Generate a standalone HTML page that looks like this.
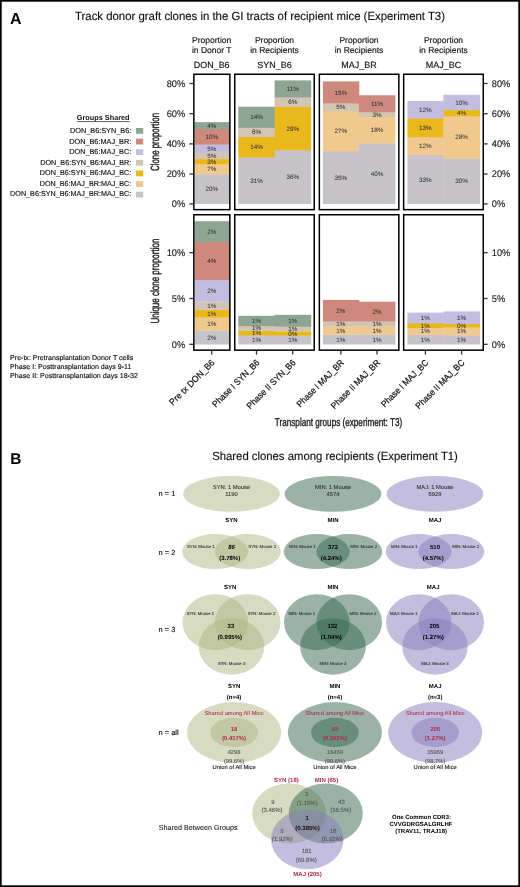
<!DOCTYPE html>
<html><head><meta charset="utf-8"><title>Figure</title>
<style>
html,body{margin:0;padding:0;background:#fff;}
body{width:520px;height:887px;overflow:hidden;}
svg{display:block;font-family:"Liberation Sans", sans-serif;will-change:transform;text-rendering:geometricPrecision;}
</style></head>
<body>
<svg width="520" height="887" viewBox="0 0 520 887">
<rect x="0" y="0" width="520" height="887" fill="#fff"/>
<text x="10" y="23.7" font-size="16" fill="#000" text-anchor="start" font-weight="bold" textLength="11.55" lengthAdjust="spacingAndGlyphs">A</text>
<text x="75" y="19.8" font-size="11.8" fill="#111" text-anchor="start" textLength="370" lengthAdjust="spacingAndGlyphs" stroke="#111" stroke-width="0.15">Track donor graft clones in the GI tracts of recipient mice (Experiment T3)</text>
<text x="211.7" y="42.8" font-size="8.5" fill="#111" text-anchor="middle" textLength="39.22" lengthAdjust="spacingAndGlyphs" stroke="#111" stroke-width="0.15">Proportion</text>
<text x="211.7" y="53.4" font-size="8.5" fill="#111" text-anchor="middle" textLength="39.53" lengthAdjust="spacingAndGlyphs" stroke="#111" stroke-width="0.15">in Donor T</text>
<text x="211.7" y="67.6" font-size="8.95" fill="#111" text-anchor="middle" textLength="35.81" lengthAdjust="spacingAndGlyphs" stroke="#111" stroke-width="0.15">DON_B6</text>
<text x="274.5" y="42.8" font-size="8.5" fill="#111" text-anchor="middle" textLength="39.22" lengthAdjust="spacingAndGlyphs" stroke="#111" stroke-width="0.15">Proportion</text>
<text x="274.5" y="53.4" font-size="8.5" fill="#111" text-anchor="middle" textLength="48.66" lengthAdjust="spacingAndGlyphs" stroke="#111" stroke-width="0.15">in Recipients</text>
<text x="274.5" y="67.6" font-size="8.95" fill="#111" text-anchor="middle" textLength="34.33" lengthAdjust="spacingAndGlyphs" stroke="#111" stroke-width="0.15">SYN_B6</text>
<text x="359.0" y="42.8" font-size="8.5" fill="#111" text-anchor="middle" textLength="39.22" lengthAdjust="spacingAndGlyphs" stroke="#111" stroke-width="0.15">Proportion</text>
<text x="359.0" y="53.4" font-size="8.5" fill="#111" text-anchor="middle" textLength="48.66" lengthAdjust="spacingAndGlyphs" stroke="#111" stroke-width="0.15">in Recipients</text>
<text x="359.0" y="67.6" font-size="8.95" fill="#111" text-anchor="middle" textLength="35.31" lengthAdjust="spacingAndGlyphs" stroke="#111" stroke-width="0.15">MAJ_BR</text>
<text x="443.5" y="42.8" font-size="8.5" fill="#111" text-anchor="middle" textLength="39.22" lengthAdjust="spacingAndGlyphs" stroke="#111" stroke-width="0.15">Proportion</text>
<text x="443.5" y="53.4" font-size="8.5" fill="#111" text-anchor="middle" textLength="48.66" lengthAdjust="spacingAndGlyphs" stroke="#111" stroke-width="0.15">in Recipients</text>
<text x="443.5" y="67.6" font-size="8.95" fill="#111" text-anchor="middle" textLength="35.31" lengthAdjust="spacingAndGlyphs" stroke="#111" stroke-width="0.15">MAJ_BC</text>
<rect x="194.5" y="174.1" width="34.9" height="29.9" fill="#c6c4c9"/>
<rect x="194.5" y="163.9" width="34.9" height="10.5" fill="#f0c98e"/>
<rect x="194.5" y="158.9" width="34.9" height="5.3" fill="#e9b81c"/>
<rect x="194.5" y="152.0" width="34.9" height="7.2" fill="#d3c5b3"/>
<rect x="194.5" y="144.4" width="34.9" height="7.9" fill="#c3bee0"/>
<rect x="194.5" y="129.0" width="34.9" height="15.7" fill="#ce887c"/>
<rect x="194.5" y="122.1" width="34.9" height="7.2" fill="#8fa594"/>
<text x="211.75" y="191.2" font-size="6.3" fill="#333" text-anchor="middle" textLength="12.61" lengthAdjust="spacingAndGlyphs" stroke="#333" stroke-width="0.04">20%</text>
<text x="211.75" y="171.3" font-size="6.3" fill="#333" text-anchor="middle" textLength="9.11" lengthAdjust="spacingAndGlyphs" stroke="#333" stroke-width="0.04">7%</text>
<text x="211.75" y="163.7" font-size="6.3" fill="#333" text-anchor="middle" textLength="9.11" lengthAdjust="spacingAndGlyphs" stroke="#333" stroke-width="0.04">3%</text>
<text x="211.75" y="157.75" font-size="6.3" fill="#333" text-anchor="middle" textLength="9.11" lengthAdjust="spacingAndGlyphs" stroke="#333" stroke-width="0.04">5%</text>
<text x="211.75" y="150.5" font-size="6.3" fill="#333" text-anchor="middle" textLength="9.11" lengthAdjust="spacingAndGlyphs" stroke="#333" stroke-width="0.04">5%</text>
<text x="211.75" y="139.0" font-size="6.3" fill="#333" text-anchor="middle" textLength="12.61" lengthAdjust="spacingAndGlyphs" stroke="#333" stroke-width="0.04">10%</text>
<text x="211.75" y="127.85" font-size="6.3" fill="#333" text-anchor="middle" textLength="9.11" lengthAdjust="spacingAndGlyphs" stroke="#333" stroke-width="0.04">4%</text>
<rect x="238.3" y="157.2" width="36.7" height="46.8" fill="#c6c4c9"/>
<rect x="238.3" y="136.6" width="36.7" height="20.9" fill="#e9b81c"/>
<rect x="238.3" y="127.6" width="36.7" height="9.3" fill="#d3c5b3"/>
<rect x="238.3" y="106.7" width="36.7" height="21.2" fill="#8fa594"/>
<text x="256.45" y="182.75" font-size="6.3" fill="#333" text-anchor="middle" textLength="12.61" lengthAdjust="spacingAndGlyphs" stroke="#333" stroke-width="0.04">31%</text>
<text x="256.45" y="149.2" font-size="6.3" fill="#333" text-anchor="middle" textLength="12.61" lengthAdjust="spacingAndGlyphs" stroke="#333" stroke-width="0.04">14%</text>
<text x="256.45" y="134.4" font-size="6.3" fill="#333" text-anchor="middle" textLength="9.11" lengthAdjust="spacingAndGlyphs" stroke="#333" stroke-width="0.04">6%</text>
<text x="256.45" y="119.45" font-size="6.3" fill="#333" text-anchor="middle" textLength="12.61" lengthAdjust="spacingAndGlyphs" stroke="#333" stroke-width="0.04">14%</text>
<rect x="274.6" y="149.9" width="36.6" height="54.1" fill="#c6c4c9"/>
<rect x="274.6" y="106.7" width="36.6" height="43.5" fill="#e9b81c"/>
<rect x="274.6" y="97.2" width="36.6" height="9.8" fill="#d3c5b3"/>
<rect x="274.6" y="80.4" width="36.6" height="17.1" fill="#8fa594"/>
<text x="292.7" y="179.1" font-size="6.3" fill="#333" text-anchor="middle" textLength="12.61" lengthAdjust="spacingAndGlyphs" stroke="#333" stroke-width="0.04">36%</text>
<text x="292.7" y="130.6" font-size="6.3" fill="#333" text-anchor="middle" textLength="12.61" lengthAdjust="spacingAndGlyphs" stroke="#333" stroke-width="0.04">29%</text>
<text x="292.7" y="104.25" font-size="6.3" fill="#333" text-anchor="middle" textLength="9.11" lengthAdjust="spacingAndGlyphs" stroke="#333" stroke-width="0.04">6%</text>
<text x="292.7" y="91.1" font-size="6.3" fill="#333" text-anchor="middle" textLength="12.14" lengthAdjust="spacingAndGlyphs" stroke="#333" stroke-width="0.04">11%</text>
<rect x="322.9" y="151.0" width="36.4" height="53.0" fill="#c6c4c9"/>
<rect x="322.9" y="111.0" width="36.4" height="40.3" fill="#f0c98e"/>
<rect x="322.9" y="103.2" width="36.4" height="8.1" fill="#d3c5b3"/>
<rect x="322.9" y="81.4" width="36.4" height="22.1" fill="#ce887c"/>
<text x="340.9" y="179.65" font-size="6.3" fill="#333" text-anchor="middle" textLength="12.61" lengthAdjust="spacingAndGlyphs" stroke="#333" stroke-width="0.04">35%</text>
<text x="340.9" y="133.3" font-size="6.3" fill="#333" text-anchor="middle" textLength="12.61" lengthAdjust="spacingAndGlyphs" stroke="#333" stroke-width="0.04">27%</text>
<text x="340.9" y="109.4" font-size="6.3" fill="#333" text-anchor="middle" textLength="9.11" lengthAdjust="spacingAndGlyphs" stroke="#333" stroke-width="0.04">5%</text>
<text x="340.9" y="94.6" font-size="6.3" fill="#333" text-anchor="middle" textLength="12.61" lengthAdjust="spacingAndGlyphs" stroke="#333" stroke-width="0.04">15%</text>
<rect x="358.9" y="143.2" width="36.5" height="60.8" fill="#c6c4c9"/>
<rect x="358.9" y="116.7" width="36.5" height="26.8" fill="#f0c98e"/>
<rect x="358.9" y="111.9" width="36.5" height="5.1" fill="#d3c5b3"/>
<rect x="358.9" y="95.3" width="36.5" height="16.9" fill="#ce887c"/>
<text x="376.95" y="175.75" font-size="6.3" fill="#333" text-anchor="middle" textLength="12.61" lengthAdjust="spacingAndGlyphs" stroke="#333" stroke-width="0.04">40%</text>
<text x="376.95" y="132.25" font-size="6.3" fill="#333" text-anchor="middle" textLength="12.61" lengthAdjust="spacingAndGlyphs" stroke="#333" stroke-width="0.04">18%</text>
<text x="376.95" y="116.6" font-size="6.3" fill="#333" text-anchor="middle" textLength="9.11" lengthAdjust="spacingAndGlyphs" stroke="#333" stroke-width="0.04">3%</text>
<text x="376.95" y="105.9" font-size="6.3" fill="#333" text-anchor="middle" textLength="12.14" lengthAdjust="spacingAndGlyphs" stroke="#333" stroke-width="0.04">11%</text>
<rect x="407.4" y="154.8" width="36.4" height="49.2" fill="#c6c4c9"/>
<rect x="407.4" y="137.1" width="36.4" height="18.0" fill="#f0c98e"/>
<rect x="407.4" y="118.1" width="36.4" height="19.3" fill="#e9b81c"/>
<rect x="407.4" y="101.1" width="36.4" height="17.3" fill="#c3bee0"/>
<text x="425.4" y="181.55" font-size="6.3" fill="#333" text-anchor="middle" textLength="12.61" lengthAdjust="spacingAndGlyphs" stroke="#333" stroke-width="0.04">33%</text>
<text x="425.4" y="148.25" font-size="6.3" fill="#333" text-anchor="middle" textLength="12.61" lengthAdjust="spacingAndGlyphs" stroke="#333" stroke-width="0.04">12%</text>
<text x="425.4" y="129.9" font-size="6.3" fill="#333" text-anchor="middle" textLength="12.61" lengthAdjust="spacingAndGlyphs" stroke="#333" stroke-width="0.04">13%</text>
<text x="425.4" y="111.9" font-size="6.3" fill="#333" text-anchor="middle" textLength="12.61" lengthAdjust="spacingAndGlyphs" stroke="#333" stroke-width="0.04">12%</text>
<rect x="443.4" y="158.2" width="36.7" height="45.8" fill="#c6c4c9"/>
<rect x="443.4" y="116.0" width="36.7" height="42.5" fill="#f0c98e"/>
<rect x="443.4" y="109.8" width="36.7" height="6.5" fill="#e9b81c"/>
<rect x="443.4" y="94.7" width="36.7" height="15.4" fill="#c3bee0"/>
<text x="461.55" y="183.25" font-size="6.3" fill="#333" text-anchor="middle" textLength="12.61" lengthAdjust="spacingAndGlyphs" stroke="#333" stroke-width="0.04">30%</text>
<text x="461.55" y="139.4" font-size="6.3" fill="#333" text-anchor="middle" textLength="12.61" lengthAdjust="spacingAndGlyphs" stroke="#333" stroke-width="0.04">28%</text>
<text x="461.55" y="115.2" font-size="6.3" fill="#333" text-anchor="middle" textLength="9.11" lengthAdjust="spacingAndGlyphs" stroke="#333" stroke-width="0.04">4%</text>
<text x="461.55" y="104.55" font-size="6.3" fill="#333" text-anchor="middle" textLength="12.61" lengthAdjust="spacingAndGlyphs" stroke="#333" stroke-width="0.04">10%</text>
<rect x="194.5" y="330.6" width="34.9" height="13.9" fill="#c6c4c9"/>
<rect x="194.5" y="317.3" width="34.9" height="13.6" fill="#f0c98e"/>
<rect x="194.5" y="309.6" width="34.9" height="8.0" fill="#e9b81c"/>
<rect x="194.5" y="301.3" width="34.9" height="8.6" fill="#d3c5b3"/>
<rect x="194.5" y="279.8" width="34.9" height="21.8" fill="#c3bee0"/>
<rect x="194.5" y="241.7" width="34.9" height="38.4" fill="#ce887c"/>
<rect x="194.5" y="221.2" width="34.9" height="20.8" fill="#8fa594"/>
<text x="211.75" y="339.7" font-size="6.3" fill="#333" text-anchor="middle" textLength="9.11" lengthAdjust="spacingAndGlyphs" stroke="#333" stroke-width="0.04">2%</text>
<text x="211.75" y="326.25" font-size="6.3" fill="#333" text-anchor="middle" textLength="9.11" lengthAdjust="spacingAndGlyphs" stroke="#333" stroke-width="0.04">1%</text>
<text x="211.75" y="315.75" font-size="6.3" fill="#333" text-anchor="middle" textLength="9.11" lengthAdjust="spacingAndGlyphs" stroke="#333" stroke-width="0.04">1%</text>
<text x="211.75" y="307.75" font-size="6.3" fill="#333" text-anchor="middle" textLength="9.11" lengthAdjust="spacingAndGlyphs" stroke="#333" stroke-width="0.04">1%</text>
<text x="211.75" y="292.85" font-size="6.3" fill="#333" text-anchor="middle" textLength="9.11" lengthAdjust="spacingAndGlyphs" stroke="#333" stroke-width="0.04">2%</text>
<text x="211.75" y="263.05" font-size="6.3" fill="#333" text-anchor="middle" textLength="9.11" lengthAdjust="spacingAndGlyphs" stroke="#333" stroke-width="0.04">4%</text>
<text x="211.75" y="233.75" font-size="6.3" fill="#333" text-anchor="middle" textLength="9.11" lengthAdjust="spacingAndGlyphs" stroke="#333" stroke-width="0.04">2%</text>
<rect x="238.3" y="335.1" width="36.7" height="9.4" fill="#c6c4c9"/>
<rect x="238.3" y="330.5" width="36.7" height="4.9" fill="#e9b81c"/>
<rect x="238.3" y="325.8" width="36.7" height="5.0" fill="#d3c5b3"/>
<rect x="238.3" y="315.8" width="36.7" height="10.3" fill="#8fa594"/>
<text x="256.45" y="341.95" font-size="6.3" fill="#333" text-anchor="middle" textLength="9.11" lengthAdjust="spacingAndGlyphs" stroke="#333" stroke-width="0.04">1%</text>
<text x="256.45" y="335.1" font-size="6.3" fill="#333" text-anchor="middle" textLength="9.11" lengthAdjust="spacingAndGlyphs" stroke="#333" stroke-width="0.04">1%</text>
<text x="256.45" y="330.45" font-size="6.3" fill="#333" text-anchor="middle" textLength="9.11" lengthAdjust="spacingAndGlyphs" stroke="#333" stroke-width="0.04">1%</text>
<text x="256.45" y="323.1" font-size="6.3" fill="#333" text-anchor="middle" textLength="9.11" lengthAdjust="spacingAndGlyphs" stroke="#333" stroke-width="0.04">1%</text>
<rect x="274.6" y="335.4" width="36.6" height="9.1" fill="#c6c4c9"/>
<rect x="274.6" y="331.2" width="36.6" height="4.5" fill="#e9b81c"/>
<rect x="274.6" y="326.5" width="36.6" height="5.0" fill="#d3c5b3"/>
<rect x="274.6" y="314.8" width="36.6" height="12.0" fill="#8fa594"/>
<text x="292.7" y="342.1" font-size="6.3" fill="#333" text-anchor="middle" textLength="9.11" lengthAdjust="spacingAndGlyphs" stroke="#333" stroke-width="0.04">1%</text>
<text x="292.7" y="335.6" font-size="6.3" fill="#333" text-anchor="middle" textLength="9.11" lengthAdjust="spacingAndGlyphs" stroke="#333" stroke-width="0.04">0%</text>
<text x="292.7" y="331.15" font-size="6.3" fill="#333" text-anchor="middle" textLength="9.11" lengthAdjust="spacingAndGlyphs" stroke="#333" stroke-width="0.04">1%</text>
<text x="292.7" y="322.95" font-size="6.3" fill="#333" text-anchor="middle" textLength="9.11" lengthAdjust="spacingAndGlyphs" stroke="#333" stroke-width="0.04">1%</text>
<rect x="322.9" y="334.5" width="36.4" height="10.0" fill="#c6c4c9"/>
<rect x="322.9" y="326.0" width="36.4" height="8.8" fill="#f0c98e"/>
<rect x="322.9" y="321.2" width="36.4" height="5.1" fill="#d3c5b3"/>
<rect x="322.9" y="299.9" width="36.4" height="21.6" fill="#ce887c"/>
<text x="340.9" y="341.65" font-size="6.3" fill="#333" text-anchor="middle" textLength="9.11" lengthAdjust="spacingAndGlyphs" stroke="#333" stroke-width="0.04">1%</text>
<text x="340.9" y="332.55" font-size="6.3" fill="#333" text-anchor="middle" textLength="9.11" lengthAdjust="spacingAndGlyphs" stroke="#333" stroke-width="0.04">1%</text>
<text x="340.9" y="325.9" font-size="6.3" fill="#333" text-anchor="middle" textLength="9.11" lengthAdjust="spacingAndGlyphs" stroke="#333" stroke-width="0.04">1%</text>
<text x="340.9" y="312.85" font-size="6.3" fill="#333" text-anchor="middle" textLength="9.11" lengthAdjust="spacingAndGlyphs" stroke="#333" stroke-width="0.04">2%</text>
<rect x="358.9" y="334.2" width="36.5" height="10.3" fill="#c6c4c9"/>
<rect x="358.9" y="326.4" width="36.5" height="8.1" fill="#f0c98e"/>
<rect x="358.9" y="321.2" width="36.5" height="5.5" fill="#d3c5b3"/>
<rect x="358.9" y="301.7" width="36.5" height="19.8" fill="#ce887c"/>
<text x="376.95" y="341.5" font-size="6.3" fill="#333" text-anchor="middle" textLength="9.11" lengthAdjust="spacingAndGlyphs" stroke="#333" stroke-width="0.04">1%</text>
<text x="376.95" y="332.6" font-size="6.3" fill="#333" text-anchor="middle" textLength="9.11" lengthAdjust="spacingAndGlyphs" stroke="#333" stroke-width="0.04">1%</text>
<text x="376.95" y="326.1" font-size="6.3" fill="#333" text-anchor="middle" textLength="9.11" lengthAdjust="spacingAndGlyphs" stroke="#333" stroke-width="0.04">1%</text>
<text x="376.95" y="313.75" font-size="6.3" fill="#333" text-anchor="middle" textLength="9.11" lengthAdjust="spacingAndGlyphs" stroke="#333" stroke-width="0.04">2%</text>
<rect x="407.4" y="334.6" width="36.4" height="9.9" fill="#c6c4c9"/>
<rect x="407.4" y="327.7" width="36.4" height="7.2" fill="#f0c98e"/>
<rect x="407.4" y="323.0" width="36.4" height="5.0" fill="#e9b81c"/>
<rect x="407.4" y="312.6" width="36.4" height="10.7" fill="#c3bee0"/>
<text x="425.4" y="341.7" font-size="6.3" fill="#333" text-anchor="middle" textLength="9.11" lengthAdjust="spacingAndGlyphs" stroke="#333" stroke-width="0.04">1%</text>
<text x="425.4" y="333.45" font-size="6.3" fill="#333" text-anchor="middle" textLength="9.11" lengthAdjust="spacingAndGlyphs" stroke="#333" stroke-width="0.04">1%</text>
<text x="425.4" y="327.65" font-size="6.3" fill="#333" text-anchor="middle" textLength="9.11" lengthAdjust="spacingAndGlyphs" stroke="#333" stroke-width="0.04">1%</text>
<text x="425.4" y="320.1" font-size="6.3" fill="#333" text-anchor="middle" textLength="9.11" lengthAdjust="spacingAndGlyphs" stroke="#333" stroke-width="0.04">1%</text>
<rect x="443.4" y="335.1" width="36.7" height="9.4" fill="#c6c4c9"/>
<rect x="443.4" y="327.2" width="36.7" height="8.2" fill="#f0c98e"/>
<rect x="443.4" y="323.7" width="36.7" height="3.8" fill="#e9b81c"/>
<rect x="443.4" y="311.4" width="36.7" height="12.6" fill="#c3bee0"/>
<text x="461.55" y="341.95" font-size="6.3" fill="#333" text-anchor="middle" textLength="9.11" lengthAdjust="spacingAndGlyphs" stroke="#333" stroke-width="0.04">1%</text>
<text x="461.55" y="333.45" font-size="6.3" fill="#333" text-anchor="middle" textLength="9.11" lengthAdjust="spacingAndGlyphs" stroke="#333" stroke-width="0.04">1%</text>
<text x="461.55" y="327.75" font-size="6.3" fill="#333" text-anchor="middle" textLength="9.11" lengthAdjust="spacingAndGlyphs" stroke="#333" stroke-width="0.04">0%</text>
<text x="461.55" y="319.85" font-size="6.3" fill="#333" text-anchor="middle" textLength="9.11" lengthAdjust="spacingAndGlyphs" stroke="#333" stroke-width="0.04">1%</text>
<rect x="193.85" y="74.25" width="36.0" height="135.4" fill="none" stroke="#000" stroke-width="1.5"/>
<rect x="193.85" y="214.75" width="36.0" height="135.39999999999998" fill="none" stroke="#000" stroke-width="1.5"/>
<rect x="234.75" y="74.25" width="79.5" height="135.4" fill="none" stroke="#000" stroke-width="1.5"/>
<rect x="234.75" y="214.75" width="79.5" height="135.39999999999998" fill="none" stroke="#000" stroke-width="1.5"/>
<rect x="319.35" y="74.25" width="79.5" height="135.4" fill="none" stroke="#000" stroke-width="1.5"/>
<rect x="319.35" y="214.75" width="79.5" height="135.39999999999998" fill="none" stroke="#000" stroke-width="1.5"/>
<rect x="403.65" y="74.25" width="79.60000000000002" height="135.4" fill="none" stroke="#000" stroke-width="1.5"/>
<rect x="403.65" y="214.75" width="79.60000000000002" height="135.39999999999998" fill="none" stroke="#000" stroke-width="1.5"/>
<line x1="189.4" x2="193.1" y1="83.5" y2="83.5" stroke="#333" stroke-width="1.3"/>
<text x="185.2" y="86.9" font-size="9.6" fill="#222" text-anchor="end" textLength="18.54" lengthAdjust="spacingAndGlyphs" stroke="#222" stroke-width="0.15">80%</text>
<line x1="484.0" x2="487.6" y1="83.5" y2="83.5" stroke="#333" stroke-width="1.3"/>
<text x="491.8" y="86.9" font-size="9.6" fill="#222" text-anchor="start" textLength="18.54" lengthAdjust="spacingAndGlyphs" stroke="#222" stroke-width="0.15">80%</text>
<line x1="189.4" x2="193.1" y1="113.7" y2="113.7" stroke="#333" stroke-width="1.3"/>
<text x="185.2" y="117.1" font-size="9.6" fill="#222" text-anchor="end" textLength="18.54" lengthAdjust="spacingAndGlyphs" stroke="#222" stroke-width="0.15">60%</text>
<line x1="484.0" x2="487.6" y1="113.7" y2="113.7" stroke="#333" stroke-width="1.3"/>
<text x="491.8" y="117.1" font-size="9.6" fill="#222" text-anchor="start" textLength="18.54" lengthAdjust="spacingAndGlyphs" stroke="#222" stroke-width="0.15">60%</text>
<line x1="189.4" x2="193.1" y1="143.9" y2="143.9" stroke="#333" stroke-width="1.3"/>
<text x="185.2" y="147.3" font-size="9.6" fill="#222" text-anchor="end" textLength="18.54" lengthAdjust="spacingAndGlyphs" stroke="#222" stroke-width="0.15">40%</text>
<line x1="484.0" x2="487.6" y1="143.9" y2="143.9" stroke="#333" stroke-width="1.3"/>
<text x="491.8" y="147.3" font-size="9.6" fill="#222" text-anchor="start" textLength="18.54" lengthAdjust="spacingAndGlyphs" stroke="#222" stroke-width="0.15">40%</text>
<line x1="189.4" x2="193.1" y1="174.0" y2="174.0" stroke="#333" stroke-width="1.3"/>
<text x="185.2" y="177.4" font-size="9.6" fill="#222" text-anchor="end" textLength="18.54" lengthAdjust="spacingAndGlyphs" stroke="#222" stroke-width="0.15">20%</text>
<line x1="484.0" x2="487.6" y1="174.0" y2="174.0" stroke="#333" stroke-width="1.3"/>
<text x="491.8" y="177.4" font-size="9.6" fill="#222" text-anchor="start" textLength="18.54" lengthAdjust="spacingAndGlyphs" stroke="#222" stroke-width="0.15">20%</text>
<line x1="189.4" x2="193.1" y1="203.9" y2="203.9" stroke="#333" stroke-width="1.3"/>
<text x="185.2" y="207.3" font-size="9.6" fill="#222" text-anchor="end" textLength="13.39" lengthAdjust="spacingAndGlyphs" stroke="#222" stroke-width="0.15">0%</text>
<line x1="484.0" x2="487.6" y1="203.9" y2="203.9" stroke="#333" stroke-width="1.3"/>
<text x="491.8" y="207.3" font-size="9.6" fill="#222" text-anchor="start" textLength="13.39" lengthAdjust="spacingAndGlyphs" stroke="#222" stroke-width="0.15">0%</text>
<line x1="189.4" x2="193.1" y1="252.7" y2="252.7" stroke="#333" stroke-width="1.3"/>
<text x="185.2" y="256.1" font-size="9.6" fill="#222" text-anchor="end" textLength="18.54" lengthAdjust="spacingAndGlyphs" stroke="#222" stroke-width="0.15">10%</text>
<line x1="484.0" x2="487.6" y1="252.7" y2="252.7" stroke="#333" stroke-width="1.3"/>
<text x="491.8" y="256.1" font-size="9.6" fill="#222" text-anchor="start" textLength="18.54" lengthAdjust="spacingAndGlyphs" stroke="#222" stroke-width="0.15">10%</text>
<line x1="189.4" x2="193.1" y1="298.5" y2="298.5" stroke="#333" stroke-width="1.3"/>
<text x="185.2" y="301.9" font-size="9.6" fill="#222" text-anchor="end" textLength="13.39" lengthAdjust="spacingAndGlyphs" stroke="#222" stroke-width="0.15">5%</text>
<line x1="484.0" x2="487.6" y1="298.5" y2="298.5" stroke="#333" stroke-width="1.3"/>
<text x="491.8" y="301.9" font-size="9.6" fill="#222" text-anchor="start" textLength="13.39" lengthAdjust="spacingAndGlyphs" stroke="#222" stroke-width="0.15">5%</text>
<line x1="189.4" x2="193.1" y1="344.3" y2="344.3" stroke="#333" stroke-width="1.3"/>
<text x="185.2" y="347.7" font-size="9.6" fill="#222" text-anchor="end" textLength="13.39" lengthAdjust="spacingAndGlyphs" stroke="#222" stroke-width="0.15">0%</text>
<line x1="484.0" x2="487.6" y1="344.3" y2="344.3" stroke="#333" stroke-width="1.3"/>
<text x="491.8" y="347.7" font-size="9.6" fill="#222" text-anchor="start" textLength="13.39" lengthAdjust="spacingAndGlyphs" stroke="#222" stroke-width="0.15">0%</text>
<line x1="211.7" x2="211.7" y1="350.9" y2="354.6" stroke="#333" stroke-width="1.3"/>
<line x1="256.5" x2="256.5" y1="350.9" y2="354.6" stroke="#333" stroke-width="1.3"/>
<line x1="292.7" x2="292.7" y1="350.9" y2="354.6" stroke="#333" stroke-width="1.3"/>
<line x1="340.9" x2="340.9" y1="350.9" y2="354.6" stroke="#333" stroke-width="1.3"/>
<line x1="377.0" x2="377.0" y1="350.9" y2="354.6" stroke="#333" stroke-width="1.3"/>
<line x1="425.4" x2="425.4" y1="350.9" y2="354.6" stroke="#333" stroke-width="1.3"/>
<line x1="461.6" x2="461.6" y1="350.9" y2="354.6" stroke="#333" stroke-width="1.3"/>
<text transform="translate(215.29999999999998,363.3) rotate(-45)" font-size="9" fill="#111" stroke="#111" stroke-width="0.22" text-anchor="end" textLength="60" lengthAdjust="spacingAndGlyphs">Pre tx DON_B6</text>
<text transform="translate(260.1,363.3) rotate(-45)" font-size="9" fill="#111" stroke="#111" stroke-width="0.22" text-anchor="end" textLength="62.7" lengthAdjust="spacingAndGlyphs">Phase I SYN_B6</text>
<text transform="translate(296.3,363.3) rotate(-45)" font-size="9" fill="#111" stroke="#111" stroke-width="0.22" text-anchor="end" textLength="65.2" lengthAdjust="spacingAndGlyphs">Phase II SYN_B6</text>
<text transform="translate(344.5,363.3) rotate(-45)" font-size="9" fill="#111" stroke="#111" stroke-width="0.22" text-anchor="end" textLength="62.7" lengthAdjust="spacingAndGlyphs">Phase I MAJ_BR</text>
<text transform="translate(380.6,363.3) rotate(-45)" font-size="9" fill="#111" stroke="#111" stroke-width="0.22" text-anchor="end" textLength="65.2" lengthAdjust="spacingAndGlyphs">Phase II MAJ_BR</text>
<text transform="translate(429.0,363.3) rotate(-45)" font-size="9" fill="#111" stroke="#111" stroke-width="0.22" text-anchor="end" textLength="62.7" lengthAdjust="spacingAndGlyphs">Phase I MAJ_BC</text>
<text transform="translate(465.20000000000005,363.3) rotate(-45)" font-size="9" fill="#111" stroke="#111" stroke-width="0.22" text-anchor="end" textLength="65.2" lengthAdjust="spacingAndGlyphs">Phase II MAJ_BC</text>
<text transform="translate(159.3,142) rotate(-90)" font-size="11.8" fill="#1a1a1a" stroke="#1a1a1a" stroke-width="0.4" text-anchor="middle" textLength="58" lengthAdjust="spacingAndGlyphs">Clone proportion</text>
<text transform="translate(159.3,281.1) rotate(-90)" font-size="11.8" fill="#1a1a1a" stroke="#1a1a1a" stroke-width="0.4" text-anchor="middle" textLength="85" lengthAdjust="spacingAndGlyphs">Unique clone proportion</text>
<text x="274.8" y="425.6" font-size="11.4" fill="#111" text-anchor="start" textLength="127.4" lengthAdjust="spacingAndGlyphs" stroke="#1a1a1a" stroke-width="0.35">Transplant groups (experiment: T3)</text>
<text x="76.8" y="120.4" font-size="7.3" fill="#111" text-anchor="start" font-weight="bold" textLength="52.8" lengthAdjust="spacingAndGlyphs">Groups Shared</text>
<line x1="76.8" x2="129.6" y1="121.6" y2="121.6" stroke="#1a1a1a" stroke-width="0.7"/>
<text x="131.3" y="133.4" font-size="7.3" fill="#111" text-anchor="end" textLength="61.3" lengthAdjust="spacingAndGlyphs" stroke="#111" stroke-width="0.15">DON_B6:SYN_B6:</text>
<rect x="136" y="128.0" width="7.2" height="5.8" fill="#8fa594"/>
<text x="131.3" y="143.87" font-size="7.3" fill="#111" text-anchor="end" textLength="62.1" lengthAdjust="spacingAndGlyphs" stroke="#111" stroke-width="0.15">DON_B6:MAJ_BR:</text>
<rect x="136" y="138.62" width="7.2" height="5.8" fill="#ce887c"/>
<text x="131.3" y="154.34" font-size="7.3" fill="#111" text-anchor="end" textLength="62.1" lengthAdjust="spacingAndGlyphs" stroke="#111" stroke-width="0.15">DON_B6:MAJ_BC:</text>
<rect x="136" y="149.24" width="7.2" height="5.8" fill="#c3bee0"/>
<text x="131.3" y="164.81" font-size="7.3" fill="#111" text-anchor="end" textLength="91.0" lengthAdjust="spacingAndGlyphs" stroke="#111" stroke-width="0.15">DON_B6:SYN_B6:MAJ_BR:</text>
<rect x="136" y="159.86" width="7.2" height="5.8" fill="#d3c5b3"/>
<text x="131.3" y="175.28" font-size="7.3" fill="#111" text-anchor="end" textLength="91.5" lengthAdjust="spacingAndGlyphs" stroke="#111" stroke-width="0.15">DON_B6:SYN_B6:MAJ_BC:</text>
<rect x="136" y="170.48" width="7.2" height="5.8" fill="#e9b81c"/>
<text x="131.3" y="185.75" font-size="7.3" fill="#111" text-anchor="end" textLength="91.5" lengthAdjust="spacingAndGlyphs" stroke="#111" stroke-width="0.15">DON_B6:MAJ_BR:MAJ_BC:</text>
<rect x="136" y="181.1" width="7.2" height="5.8" fill="#f0c98e"/>
<text x="131.3" y="196.22" font-size="7.3" fill="#111" text-anchor="end" textLength="121.2" lengthAdjust="spacingAndGlyphs" stroke="#111" stroke-width="0.15">DON_B6:SYN_B6:MAJ_BR:MAJ_BC:</text>
<rect x="136" y="191.72" width="7.2" height="5.8" fill="#c6c4c9"/>
<text x="10.1" y="359.8" font-size="7.05" fill="#111" text-anchor="start" textLength="123.1" lengthAdjust="spacingAndGlyphs" stroke="#111" stroke-width="0.15">Pre-tx: Pretransplantation Donor T cells</text>
<text x="10.1" y="369.07" font-size="7.05" fill="#111" text-anchor="start" textLength="121.4" lengthAdjust="spacingAndGlyphs" stroke="#111" stroke-width="0.15">Phase I: Posttransplantation days 9-11</text>
<text x="10.1" y="378.34" font-size="7.05" fill="#111" text-anchor="start" textLength="127.8" lengthAdjust="spacingAndGlyphs" stroke="#111" stroke-width="0.15">Phase II: Posttransplantation days 18-32</text>
<text x="10.3" y="464" font-size="15.5" fill="#000" text-anchor="start" font-weight="bold" textLength="11.19" lengthAdjust="spacingAndGlyphs">B</text>
<text x="212.2" y="460.4" font-size="11.8" fill="#111" text-anchor="start" textLength="245.7" lengthAdjust="spacingAndGlyphs" stroke="#111" stroke-width="0.15">Shared clones among recipients (Experiment T1)</text>
<text x="158.6" y="496.0" font-size="7.4" fill="#111" text-anchor="start" textLength="16.66" lengthAdjust="spacingAndGlyphs" stroke="#111" stroke-width="0.15">n = 1</text>
<text x="158.6" y="554.6" font-size="7.4" fill="#111" text-anchor="start" textLength="16.66" lengthAdjust="spacingAndGlyphs" stroke="#111" stroke-width="0.15">n = 2</text>
<text x="158.6" y="632.3" font-size="7.4" fill="#111" text-anchor="start" textLength="16.66" lengthAdjust="spacingAndGlyphs" stroke="#111" stroke-width="0.15">n = 3</text>
<text x="158.6" y="735.0" font-size="7.4" fill="#111" text-anchor="start" textLength="19.95" lengthAdjust="spacingAndGlyphs" stroke="#111" stroke-width="0.15">n = all</text>
<ellipse cx="231.5" cy="493.9" rx="48.3" ry="17.9" fill="#adb783" fill-opacity="0.5"/>
<text x="231.5" y="489.1" font-size="5.8" fill="#333" text-anchor="middle" textLength="37.39" lengthAdjust="spacingAndGlyphs" stroke="#333" stroke-width="0.1">SYN: 1 Mouse</text>
<text x="231.5" y="496.2" font-size="5.8" fill="#333" text-anchor="middle" textLength="12.47" lengthAdjust="spacingAndGlyphs" stroke="#333" stroke-width="0.1">1190</text>
<ellipse cx="333.0" cy="493.9" rx="48.3" ry="17.9" fill="#35674d" fill-opacity="0.5"/>
<text x="333.0" y="489.1" font-size="5.8" fill="#333" text-anchor="middle" textLength="36.1" lengthAdjust="spacingAndGlyphs" stroke="#333" stroke-width="0.1">MIN: 1 Mouse</text>
<text x="333.0" y="496.2" font-size="5.8" fill="#333" text-anchor="middle" textLength="12.9" lengthAdjust="spacingAndGlyphs" stroke="#333" stroke-width="0.1">4574</text>
<ellipse cx="435.0" cy="493.9" rx="48.3" ry="17.9" fill="#877dbb" fill-opacity="0.5"/>
<text x="435.0" y="489.1" font-size="5.8" fill="#333" text-anchor="middle" textLength="37.07" lengthAdjust="spacingAndGlyphs" stroke="#333" stroke-width="0.1">MAJ: 1 Mouse</text>
<text x="435.0" y="496.2" font-size="5.8" fill="#333" text-anchor="middle" textLength="12.9" lengthAdjust="spacingAndGlyphs" stroke="#333" stroke-width="0.1">5929</text>
<text x="231.5" y="522" font-size="6" fill="#000" text-anchor="middle" font-weight="bold" textLength="12.34" lengthAdjust="spacingAndGlyphs">SYN</text>
<ellipse cx="215.2" cy="551.6" rx="33" ry="17.5" fill="#adb783" fill-opacity="0.5"/>
<ellipse cx="247.8" cy="551.6" rx="33" ry="17.5" fill="#adb783" fill-opacity="0.5"/>
<text x="200.8" y="548.3" font-size="4.3" fill="#333" text-anchor="middle" textLength="27.72" lengthAdjust="spacingAndGlyphs" stroke="#333" stroke-width="0.1">SYN: Mouse 1</text>
<text x="262.2" y="548.3" font-size="4.3" fill="#333" text-anchor="middle" textLength="27.72" lengthAdjust="spacingAndGlyphs" stroke="#333" stroke-width="0.1">SYN: Mouse 2</text>
<text x="231.5" y="549.2" font-size="6.0" fill="#000" text-anchor="middle" font-weight="bold" textLength="6.67" lengthAdjust="spacingAndGlyphs" font-style="italic">86</text>
<text x="229.7" y="559.8" font-size="6.0" fill="#000" text-anchor="middle" font-weight="bold" textLength="21.01" lengthAdjust="spacingAndGlyphs">(3.78%)</text>
<text x="333.0" y="522" font-size="6" fill="#000" text-anchor="middle" font-weight="bold" textLength="11.0" lengthAdjust="spacingAndGlyphs">MIN</text>
<ellipse cx="316.7" cy="551.6" rx="33" ry="17.5" fill="#35674d" fill-opacity="0.5"/>
<ellipse cx="349.3" cy="551.6" rx="33" ry="17.5" fill="#35674d" fill-opacity="0.5"/>
<text x="302.3" y="548.3" font-size="4.3" fill="#333" text-anchor="middle" textLength="26.76" lengthAdjust="spacingAndGlyphs" stroke="#333" stroke-width="0.1">MIN: Mouse 1</text>
<text x="363.7" y="548.3" font-size="4.3" fill="#333" text-anchor="middle" textLength="26.76" lengthAdjust="spacingAndGlyphs" stroke="#333" stroke-width="0.1">MIN: Mouse 2</text>
<text x="333.0" y="549.2" font-size="6.0" fill="#000" text-anchor="middle" font-weight="bold" textLength="10.01" lengthAdjust="spacingAndGlyphs">372</text>
<text x="331.2" y="559.8" font-size="6.0" fill="#000" text-anchor="middle" font-weight="bold" textLength="21.01" lengthAdjust="spacingAndGlyphs">(4.24%)</text>
<text x="435.0" y="522" font-size="6" fill="#000" text-anchor="middle" font-weight="bold" textLength="12.67" lengthAdjust="spacingAndGlyphs">MAJ</text>
<ellipse cx="418.7" cy="551.6" rx="33" ry="17.5" fill="#877dbb" fill-opacity="0.5"/>
<ellipse cx="451.3" cy="551.6" rx="33" ry="17.5" fill="#877dbb" fill-opacity="0.5"/>
<text x="404.3" y="548.3" font-size="4.3" fill="#333" text-anchor="middle" textLength="26.76" lengthAdjust="spacingAndGlyphs" stroke="#333" stroke-width="0.1">MIN: Mouse 1</text>
<text x="465.7" y="548.3" font-size="4.3" fill="#333" text-anchor="middle" textLength="26.76" lengthAdjust="spacingAndGlyphs" stroke="#333" stroke-width="0.1">MIN: Mouse 2</text>
<text x="435.0" y="549.2" font-size="6.0" fill="#000" text-anchor="middle" font-weight="bold" textLength="10.01" lengthAdjust="spacingAndGlyphs">510</text>
<text x="433.2" y="559.8" font-size="6.0" fill="#000" text-anchor="middle" font-weight="bold" textLength="21.01" lengthAdjust="spacingAndGlyphs">(4.57%)</text>
<text x="230.2" y="588.5" font-size="6" fill="#000" text-anchor="middle" font-weight="bold" textLength="12.34" lengthAdjust="spacingAndGlyphs">SYN</text>
<ellipse cx="215.3" cy="622.2" rx="32.8" ry="28" fill="#adb783" fill-opacity="0.5"/>
<ellipse cx="247.7" cy="622.2" rx="32.8" ry="28" fill="#adb783" fill-opacity="0.5"/>
<ellipse cx="231.5" cy="646.5" rx="32.8" ry="28.2" fill="#adb783" fill-opacity="0.5"/>
<text x="200.3" y="615.0" font-size="4.3" fill="#333" text-anchor="middle" textLength="27.72" lengthAdjust="spacingAndGlyphs" stroke="#333" stroke-width="0.1">SYN: Mouse 1</text>
<text x="261.5" y="615.0" font-size="4.3" fill="#333" text-anchor="middle" textLength="27.72" lengthAdjust="spacingAndGlyphs" stroke="#333" stroke-width="0.1">SYN: Mouse 2</text>
<text x="231.5" y="665.0" font-size="4.3" fill="#333" text-anchor="middle" textLength="27.72" lengthAdjust="spacingAndGlyphs" stroke="#333" stroke-width="0.1">SYN: Mouse 3</text>
<text x="230.9" y="628.0" font-size="6.0" fill="#000" text-anchor="middle" font-weight="bold" textLength="6.67" lengthAdjust="spacingAndGlyphs">33</text>
<text x="229.8" y="638.7" font-size="6.0" fill="#000" text-anchor="middle" font-weight="bold" textLength="24.35" lengthAdjust="spacingAndGlyphs">(0.995%)</text>
<text x="332.9" y="588.5" font-size="6" fill="#000" text-anchor="middle" font-weight="bold" textLength="11.0" lengthAdjust="spacingAndGlyphs">MIN</text>
<ellipse cx="316.8" cy="622.2" rx="32.8" ry="28" fill="#35674d" fill-opacity="0.5"/>
<ellipse cx="349.2" cy="622.2" rx="32.8" ry="28" fill="#35674d" fill-opacity="0.5"/>
<ellipse cx="333.0" cy="646.5" rx="32.8" ry="28.2" fill="#35674d" fill-opacity="0.5"/>
<text x="301.8" y="615.0" font-size="4.3" fill="#333" text-anchor="middle" textLength="26.76" lengthAdjust="spacingAndGlyphs" stroke="#333" stroke-width="0.1">MIN: Mouse 1</text>
<text x="363.0" y="615.0" font-size="4.3" fill="#333" text-anchor="middle" textLength="26.76" lengthAdjust="spacingAndGlyphs" stroke="#333" stroke-width="0.1">MIN: Mouse 2</text>
<text x="333.0" y="665.0" font-size="4.3" fill="#333" text-anchor="middle" textLength="26.76" lengthAdjust="spacingAndGlyphs" stroke="#333" stroke-width="0.1">MIN: Mouse 3</text>
<text x="332.4" y="628.0" font-size="6.0" fill="#000" text-anchor="middle" font-weight="bold" textLength="10.01" lengthAdjust="spacingAndGlyphs">132</text>
<text x="331.3" y="638.7" font-size="6.0" fill="#000" text-anchor="middle" font-weight="bold" textLength="21.01" lengthAdjust="spacingAndGlyphs">(1.04%)</text>
<text x="433.2" y="588.5" font-size="6" fill="#000" text-anchor="middle" font-weight="bold" textLength="12.67" lengthAdjust="spacingAndGlyphs">MAJ</text>
<ellipse cx="418.8" cy="622.2" rx="32.8" ry="28" fill="#877dbb" fill-opacity="0.5"/>
<ellipse cx="451.2" cy="622.2" rx="32.8" ry="28" fill="#877dbb" fill-opacity="0.5"/>
<ellipse cx="435.0" cy="646.5" rx="32.8" ry="28.2" fill="#877dbb" fill-opacity="0.5"/>
<text x="403.8" y="615.0" font-size="4.3" fill="#333" text-anchor="middle" textLength="27.48" lengthAdjust="spacingAndGlyphs" stroke="#333" stroke-width="0.1">MAJ: Mouse 1</text>
<text x="465.0" y="615.0" font-size="4.3" fill="#333" text-anchor="middle" textLength="27.48" lengthAdjust="spacingAndGlyphs" stroke="#333" stroke-width="0.1">MAJ: Mouse 2</text>
<text x="435.0" y="665.0" font-size="4.3" fill="#333" text-anchor="middle" textLength="27.48" lengthAdjust="spacingAndGlyphs" stroke="#333" stroke-width="0.1">MAJ: Mouse 3</text>
<text x="434.4" y="628.0" font-size="6.0" fill="#000" text-anchor="middle" font-weight="bold" textLength="10.01" lengthAdjust="spacingAndGlyphs">205</text>
<text x="433.3" y="638.7" font-size="6.0" fill="#000" text-anchor="middle" font-weight="bold" textLength="21.01" lengthAdjust="spacingAndGlyphs">(1.27%)</text>
<text x="234.1" y="687.6" font-size="6" fill="#000" text-anchor="middle" font-weight="bold" textLength="12.34" lengthAdjust="spacingAndGlyphs">SYN</text>
<text x="234.1" y="699.0" font-size="6" fill="#000" text-anchor="middle" font-weight="bold" textLength="14.5" lengthAdjust="spacingAndGlyphs">(n=4)</text>
<ellipse cx="234.1" cy="732.5" rx="47" ry="30.4" fill="#adb783" fill-opacity="0.5"/>
<ellipse cx="234.1" cy="732.5" rx="23.8" ry="14.7" fill="#adb783" fill-opacity="0.5"/>
<text x="234.1" y="715.2" font-size="5.75" fill="#b0284a" text-anchor="middle" textLength="59.13" lengthAdjust="spacingAndGlyphs" stroke="#b0284a" stroke-width="0.05">Shared among All Mice</text>
<text x="234.1" y="730.6" font-size="5.9" fill="#b0284a" text-anchor="middle" font-weight="bold" textLength="6.56" lengthAdjust="spacingAndGlyphs">18</text>
<text x="234.1" y="740.2" font-size="5.9" fill="#b0284a" text-anchor="middle" font-weight="bold" textLength="23.94" lengthAdjust="spacingAndGlyphs">(0.417%)</text>
<text x="234.1" y="753.8" font-size="5.8" fill="#555" text-anchor="middle" textLength="12.9" lengthAdjust="spacingAndGlyphs" stroke="#555" stroke-width="0.1">4298</text>
<text x="234.1" y="762.6" font-size="5.8" fill="#555" text-anchor="middle" textLength="20.31" lengthAdjust="spacingAndGlyphs" stroke="#555" stroke-width="0.1">(99.6%)</text>
<text x="234.1" y="769.2" font-size="5.8" fill="#111" text-anchor="middle" textLength="43.2" lengthAdjust="spacingAndGlyphs" stroke="#111" stroke-width="0.1">Union of All Mice</text>
<text x="334.9" y="687.6" font-size="6" fill="#000" text-anchor="middle" font-weight="bold" textLength="11.0" lengthAdjust="spacingAndGlyphs">MIN</text>
<text x="334.9" y="699.0" font-size="6" fill="#000" text-anchor="middle" font-weight="bold" textLength="14.5" lengthAdjust="spacingAndGlyphs">(n=4)</text>
<ellipse cx="334.9" cy="732.5" rx="47" ry="30.4" fill="#35674d" fill-opacity="0.5"/>
<ellipse cx="334.9" cy="732.5" rx="23.8" ry="14.7" fill="#35674d" fill-opacity="0.5"/>
<text x="334.9" y="715.2" font-size="5.75" fill="#b0284a" text-anchor="middle" textLength="59.13" lengthAdjust="spacingAndGlyphs" stroke="#b0284a" stroke-width="0.05">Shared among All Mice</text>
<text x="334.9" y="730.6" font-size="5.9" fill="#b0284a" text-anchor="middle" font-weight="bold" textLength="6.56" lengthAdjust="spacingAndGlyphs">65</text>
<text x="334.9" y="740.2" font-size="5.9" fill="#b0284a" text-anchor="middle" font-weight="bold" textLength="23.94" lengthAdjust="spacingAndGlyphs">(0.393%)</text>
<text x="334.9" y="753.8" font-size="5.8" fill="#555" text-anchor="middle" textLength="16.13" lengthAdjust="spacingAndGlyphs" stroke="#555" stroke-width="0.1">16459</text>
<text x="334.9" y="762.6" font-size="5.8" fill="#555" text-anchor="middle" textLength="20.31" lengthAdjust="spacingAndGlyphs" stroke="#555" stroke-width="0.1">(99.6%)</text>
<text x="334.9" y="769.2" font-size="5.8" fill="#111" text-anchor="middle" textLength="43.2" lengthAdjust="spacingAndGlyphs" stroke="#111" stroke-width="0.1">Union of All Mice</text>
<text x="435.2" y="687.6" font-size="6" fill="#000" text-anchor="middle" font-weight="bold" textLength="12.67" lengthAdjust="spacingAndGlyphs">MAJ</text>
<text x="435.2" y="699.0" font-size="6" fill="#000" text-anchor="middle" font-weight="bold" textLength="14.5" lengthAdjust="spacingAndGlyphs">(n=3)</text>
<ellipse cx="435.2" cy="732.5" rx="47" ry="30.4" fill="#877dbb" fill-opacity="0.5"/>
<ellipse cx="435.2" cy="732.5" rx="23.8" ry="14.7" fill="#877dbb" fill-opacity="0.5"/>
<text x="435.2" y="715.2" font-size="5.75" fill="#b0284a" text-anchor="middle" textLength="59.13" lengthAdjust="spacingAndGlyphs" stroke="#b0284a" stroke-width="0.05">Shared among All Mice</text>
<text x="435.2" y="730.6" font-size="5.9" fill="#b0284a" text-anchor="middle" font-weight="bold" textLength="9.84" lengthAdjust="spacingAndGlyphs">205</text>
<text x="435.2" y="740.2" font-size="5.9" fill="#b0284a" text-anchor="middle" font-weight="bold" textLength="20.66" lengthAdjust="spacingAndGlyphs">(1.27%)</text>
<text x="435.2" y="753.8" font-size="5.8" fill="#555" text-anchor="middle" textLength="16.13" lengthAdjust="spacingAndGlyphs" stroke="#555" stroke-width="0.1">15959</text>
<text x="435.2" y="762.6" font-size="5.8" fill="#555" text-anchor="middle" textLength="20.31" lengthAdjust="spacingAndGlyphs" stroke="#555" stroke-width="0.1">(98.7%)</text>
<text x="435.2" y="769.2" font-size="5.8" fill="#111" text-anchor="middle" textLength="43.2" lengthAdjust="spacingAndGlyphs" stroke="#111" stroke-width="0.1">Union of All Mice</text>
<text x="158.7" y="829.6" font-size="7.2" fill="#222" text-anchor="start" textLength="78.8" lengthAdjust="spacingAndGlyphs" stroke="#222" stroke-width="0.1">Shared Between Groups</text>
<ellipse cx="289.2" cy="813.5" rx="37" ry="30" fill="#adb783" fill-opacity="0.5"/>
<ellipse cx="325.8" cy="813.5" rx="37" ry="30" fill="#35674d" fill-opacity="0.5"/>
<ellipse cx="307.3" cy="839.5" rx="36.3" ry="29.7" fill="#877dbb" fill-opacity="0.5"/>
<text x="286.4" y="781.7" font-size="6.0" fill="#b0284a" text-anchor="middle" font-weight="bold" textLength="24.67" lengthAdjust="spacingAndGlyphs">SYN (18)</text>
<text x="326.5" y="781.7" font-size="6.0" fill="#b0284a" text-anchor="middle" font-weight="bold" textLength="23.34" lengthAdjust="spacingAndGlyphs">MIN (65)</text>
<text x="307.5" y="875.9" font-size="6.0" fill="#b0284a" text-anchor="middle" font-weight="bold" textLength="28.34" lengthAdjust="spacingAndGlyphs">MAJ (205)</text>
<text x="272.9" y="803.5" font-size="6.0" fill="#555" text-anchor="middle" textLength="3.34" lengthAdjust="spacingAndGlyphs" stroke="#555" stroke-width="0.1">9</text>
<text x="272.0" y="812.4" font-size="6.0" fill="#555" text-anchor="middle" textLength="21.01" lengthAdjust="spacingAndGlyphs" stroke="#555" stroke-width="0.1">(3.46%)</text>
<text x="306.7" y="795.9" font-size="6.0" fill="#555" text-anchor="middle" textLength="3.34" lengthAdjust="spacingAndGlyphs" stroke="#555" stroke-width="0.1">3</text>
<text x="307.2" y="805.4" font-size="6.0" fill="#555" text-anchor="middle" textLength="21.01" lengthAdjust="spacingAndGlyphs" stroke="#555" stroke-width="0.1">(1.15%)</text>
<text x="341.4" y="803.5" font-size="6.0" fill="#555" text-anchor="middle" textLength="6.67" lengthAdjust="spacingAndGlyphs" stroke="#555" stroke-width="0.1">43</text>
<text x="340.8" y="812.4" font-size="6.0" fill="#555" text-anchor="middle" textLength="21.01" lengthAdjust="spacingAndGlyphs" stroke="#555" stroke-width="0.1">(16.5%)</text>
<text x="307.2" y="820.4" font-size="6.0" fill="#111" text-anchor="middle" font-weight="bold" textLength="3.34" lengthAdjust="spacingAndGlyphs">1</text>
<text x="307.5" y="829.7" font-size="6.0" fill="#111" text-anchor="middle" font-weight="bold" textLength="24.35" lengthAdjust="spacingAndGlyphs">(0.385%)</text>
<text x="282.0" y="832.5" font-size="6.0" fill="#555" text-anchor="middle" textLength="3.34" lengthAdjust="spacingAndGlyphs" stroke="#555" stroke-width="0.1" font-style="italic">5</text>
<text x="282.2" y="841.4" font-size="6.0" fill="#555" text-anchor="middle" textLength="21.01" lengthAdjust="spacingAndGlyphs" stroke="#555" stroke-width="0.1" font-style="italic">(1.92%)</text>
<text x="333.0" y="832.5" font-size="6.0" fill="#555" text-anchor="middle" textLength="6.67" lengthAdjust="spacingAndGlyphs" stroke="#555" stroke-width="0.1">18</text>
<text x="332.3" y="841.4" font-size="6.0" fill="#555" text-anchor="middle" textLength="21.01" lengthAdjust="spacingAndGlyphs" stroke="#555" stroke-width="0.1">(6.92%)</text>
<text x="306.7" y="852.6" font-size="6.0" fill="#555" text-anchor="middle" textLength="10.01" lengthAdjust="spacingAndGlyphs" stroke="#555" stroke-width="0.1">181</text>
<text x="306.3" y="861.7" font-size="6.0" fill="#555" text-anchor="middle" textLength="21.01" lengthAdjust="spacingAndGlyphs" stroke="#555" stroke-width="0.1">(69.8%)</text>
<text x="421.5" y="819.4" font-size="5.95" fill="#000" text-anchor="middle" font-weight="bold" textLength="58.84" lengthAdjust="spacingAndGlyphs">One Common CDR3:</text>
<text x="421.0" y="826.2" font-size="6.0" fill="#000" text-anchor="middle" font-weight="bold" textLength="63.0" lengthAdjust="spacingAndGlyphs">CVVGDRGSALGRLHF</text>
<text x="421.1" y="833.1" font-size="6.0" fill="#000" text-anchor="middle" font-weight="bold" textLength="51.9" lengthAdjust="spacingAndGlyphs">(TRAV11, TRAJ18)</text>
<rect x="0.85" y="0.85" width="518.3" height="885.3" fill="none" stroke="#000" stroke-width="1.7"/>
</svg>
</body></html>
